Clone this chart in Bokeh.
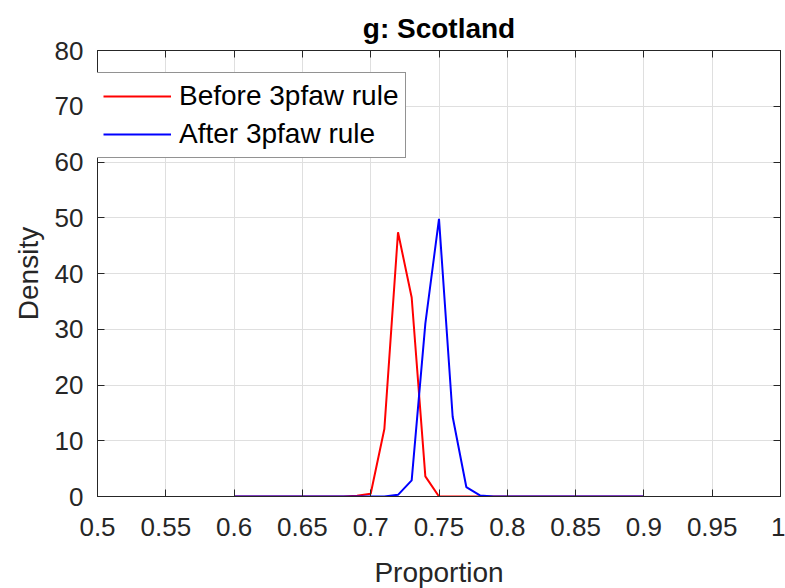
from bokeh.plotting import figure
from bokeh.models import ColumnDataSource, Range1d, FixedTicker, LinearAxis, Legend, LegendItem
from bokeh.embed import file_html
from bokeh.resources import INLINE

# ---- data ----
proportion = [0.60, 0.61, 0.62, 0.63, 0.64, 0.65, 0.66, 0.67, 0.68, 0.69,
              0.70, 0.71, 0.72, 0.73, 0.74, 0.75, 0.76, 0.77, 0.78, 0.79,
              0.80, 0.81, 0.82, 0.83, 0.84, 0.85, 0.86, 0.87, 0.88, 0.89, 0.90]
before_density = [0, 0, 0, 0, 0, 0, 0, 0, 0, 0.15,
                  0.5, 12.1, 47.4, 35.7, 3.6, 0.0, 0, 0, 0, 0,
                  0, 0, 0, 0, 0, 0, 0, 0, 0, 0, 0]
after_density = [0, 0, 0, 0, 0, 0, 0, 0, 0, 0,
                 0, 0, 0.3, 2.9, 31.0, 49.8, 14.3, 1.7, 0.2, 0,
                 0, 0, 0, 0, 0, 0, 0, 0, 0, 0, 0]
x_ticks = [0.5, 0.55, 0.6, 0.65, 0.7, 0.75, 0.8, 0.85, 0.9, 0.95, 1.0]
x_tick_labels = ["0.5", "0.55", "0.6", "0.65", "0.7", "0.75", "0.8", "0.85", "0.9", "0.95", "1"]
y_ticks = [0, 10, 20, 30, 40, 50, 60, 70, 80]
series_names = ["Before 3pfaw rule", "After 3pfaw rule"]
title_text = "g: Scotland"

FONT = "Liberation Sans"
AX = "#262626"

p = figure(frame_width=683, frame_height=446,
           min_border_left=97, min_border_right=5, min_border_top=50, min_border_bottom=92,
           x_range=Range1d(0.5, 1.0), y_range=Range1d(0, 80),
           output_backend="svg", toolbar_location=None,
           x_axis_label="Proportion", y_axis_label="Density")

p.title.text = title_text
p.title.align = "center"
p.title.text_font = FONT
p.title.text_font_size = "28px"
p.title.text_font_style = "bold"
p.title.text_color = "#000000"
p.title.standoff = 14

src = ColumnDataSource(dict(x=proportion, before=before_density, after=after_density))
r1 = p.line("x", "before", source=src, line_color="#ff0000", line_width=2)
r2 = p.line("x", "after", source=src, line_color="#0000ff", line_width=2)

overrides = {t: lab for t, lab in zip(x_ticks, x_tick_labels)}

for ax in p.xaxis:
    ax.ticker = FixedTicker(ticks=x_ticks)
    ax.major_label_overrides = overrides
for ax in p.yaxis:
    ax.ticker = FixedTicker(ticks=y_ticks)

for ax in list(p.xaxis) + list(p.yaxis):
    ax.axis_line_color = AX
    ax.major_tick_line_color = AX
    ax.major_tick_in = 7
    ax.major_tick_out = 0
    ax.minor_tick_line_color = None
    ax.minor_tick_out = 0
    ax.major_label_text_font = FONT
    ax.major_label_text_font_size = "26px"
    ax.major_label_text_color = AX
    ax.axis_label_text_font = FONT
    ax.axis_label_text_font_size = "28px"
    ax.axis_label_text_font_style = "normal"
    ax.axis_label_text_color = AX

p.xaxis.major_label_standoff = 21
p.yaxis.major_label_standoff = 14
p.xaxis.axis_label_standoff = 18
p.yaxis.axis_label_standoff = 8

# box-style top and right axes (ticks only, no labels)
def tick_only_axis(ticks):
    return LinearAxis(ticker=FixedTicker(ticks=ticks), major_label_text_font_size="0px",
                      major_label_text_color=None, major_label_standoff=0,
                      axis_line_color=AX, major_tick_line_color=AX,
                      major_tick_in=7, major_tick_out=0,
                      minor_tick_line_color=None, minor_tick_in=0, minor_tick_out=0)

p.add_layout(tick_only_axis(x_ticks), "above")
p.add_layout(tick_only_axis(y_ticks), "right")

p.xgrid.ticker = FixedTicker(ticks=x_ticks)
p.ygrid.ticker = FixedTicker(ticks=y_ticks)
p.grid.grid_line_color = "#dfdfdf"
p.grid.grid_line_width = 1
p.outline_line_color = AX

legend = Legend(items=[LegendItem(label=series_names[0], renderers=[r1]),
                       LegendItem(label=series_names[1], renderers=[r2])],
                location=(-2, 338))
legend.label_text_font = FONT
legend.label_text_font_size = "28px"
legend.label_text_color = "#000000"
legend.glyph_width = 68
legend.glyph_height = 30
legend.label_height = 30
legend.label_standoff = 8
legend.spacing = 6
legend.padding = 7
legend.margin = 0
legend.border_line_color = AX
legend.border_line_width = 1
legend.background_fill_color = "white"
legend.background_fill_alpha = 1
p.add_layout(legend, "center")

p.background_fill_color = "white"
p.border_fill_color = "white"

open("out.html", "w").write(file_html(p, INLINE))
